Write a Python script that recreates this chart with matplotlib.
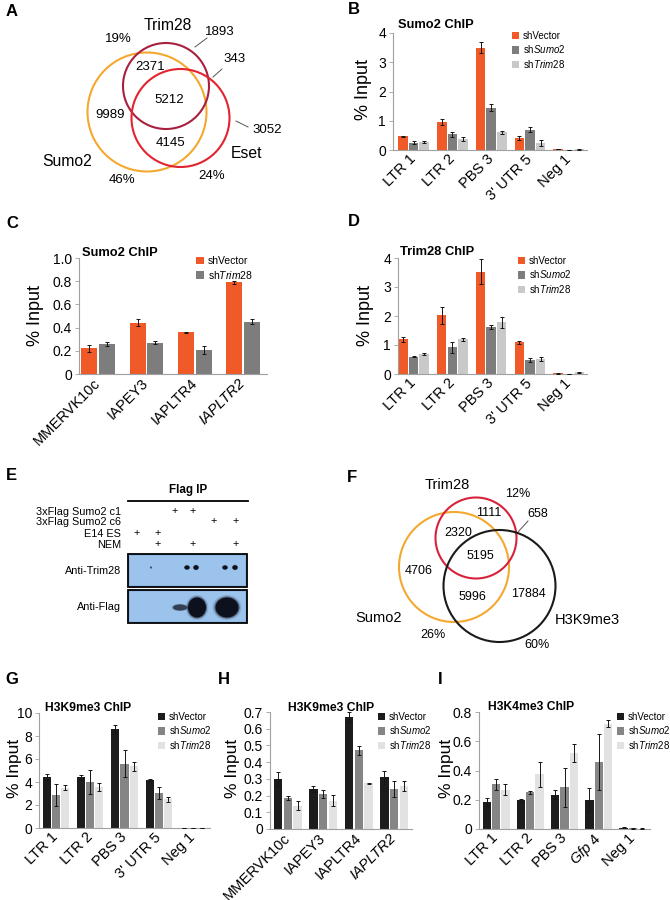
"""
Sumo2 / Trim28 ChIP figure (panels A-I)
"""

import matplotlib
matplotlib.use("Agg")
import matplotlib.pyplot as plt
from matplotlib.patches import Circle, Ellipse, Rectangle
import numpy as np

plt.rcParams["font.family"] = ["Liberation Sans", "DejaVu Sans"]
plt.rcParams["mathtext.fontset"] = "custom"
plt.rcParams["mathtext.rm"] = "Liberation Sans"
plt.rcParams["mathtext.it"] = "Liberation Sans:italic"
plt.rcParams["mathtext.bf"] = "Liberation Sans:bold"

W, H = 670, 900

# ---- data ----
retro_sites = ["LTR 1", "LTR 2", "PBS 3", "3' UTR 5", "Neg 1"]
iap_sites = ["MMERVK10c", "IAPEY3", "IAPLTR4", "IAPLTR2"]
gfp_sites = ["LTR 1", "LTR 2", "PBS 3", "$\\mathit{Gfp}$ 4", "Neg 1"]
kd_labels = ["shVector", "sh$\\mathit{Sumo2}$", "sh$\\mathit{Trim28}$"]
kd_labels_c = ["shVector", "sh$\\mathit{Trim28}$"]

# B: Sumo2 ChIP
b_vector = [0.47, 0.95, 3.50, 0.40, 0.03]
b_sumo2 = [0.25, 0.53, 1.45, 0.70, 0.00]
b_trim28 = [0.27, 0.37, 0.60, 0.25, 0.02]
b_vector_err = [0.02, 0.10, 0.20, 0.07, 0.01]
b_sumo2_err = [0.06, 0.08, 0.13, 0.10, 0.00]
b_trim28_err = [0.03, 0.06, 0.05, 0.10, 0.01]

# C: Sumo2 ChIP at IAP elements
c_vector = [0.22, 0.44, 0.36, 0.79]
c_trim28 = [0.26, 0.27, 0.21, 0.45]
c_vector_err = [0.03, 0.03, 0.003, 0.015]
c_trim28_err = [0.015, 0.015, 0.035, 0.02]

# D: Trim28 ChIP
d_vector = [1.20, 2.02, 3.53, 1.10, 0.02]
d_sumo2 = [0.60, 0.92, 1.62, 0.48, 0.00]
d_trim28 = [0.68, 1.20, 1.78, 0.52, 0.06]
d_vector_err = [0.08, 0.28, 0.42, 0.05, 0.01]
d_sumo2_err = [0.02, 0.18, 0.06, 0.08, 0.00]
d_trim28_err = [0.03, 0.05, 0.20, 0.06, 0.01]

# G: H3K9me3 ChIP
g_vector = [4.45, 4.40, 8.65, 4.15, 0.02]
g_sumo2 = [2.90, 4.00, 5.60, 3.05, 0.01]
g_trim28 = [3.50, 3.55, 5.35, 2.50, 0.01]
g_vector_err = [0.25, 0.20, 0.35, 0.08, 0.00]
g_sumo2_err = [0.95, 1.05, 1.15, 0.55, 0.00]
g_trim28_err = [0.20, 0.35, 0.35, 0.20, 0.00]

# H: H3K9me3 ChIP at IAP elements
h_vector = [0.300, 0.240, 0.670, 0.310]
h_sumo2 = [0.185, 0.210, 0.470, 0.240]
h_trim28 = [0.140, 0.170, 0.275, 0.260]
h_vector_err = [0.040, 0.020, 0.030, 0.040]
h_sumo2_err = [0.010, 0.025, 0.025, 0.050]
h_trim28_err = [0.025, 0.035, 0.003, 0.030]

# I: H3K4me3 ChIP
i_vector = [0.185, 0.195, 0.235, 0.200, 0.010]
i_sumo2 = [0.305, 0.250, 0.285, 0.460, 0.005]
i_trim28 = [0.270, 0.375, 0.520, 0.720, 0.003]
i_vector_err = [0.025, 0.010, 0.030, 0.080, 0.002]
i_sumo2_err = [0.035, 0.010, 0.135, 0.190, 0.002]
i_trim28_err = [0.040, 0.085, 0.060, 0.025, 0.001]

# A: Venn of Sumo2 / Trim28 / Eset peaks
venn_a_sets = ["Sumo2", "Trim28", "Eset"]
venn_a_counts = [9989, 2371, 5212, 4145, 1893, 343, 3052]
venn_a_pcts = ["46%", "19%", "24%"]

# F: Venn of Sumo2 / Trim28 / H3K9me3 peaks
venn_f_sets = ["Sumo2", "Trim28", "H3K9me3"]
venn_f_counts = [4706, 2320, 5195, 5996, 1111, 658, 17884]
venn_f_pcts = ["26%", "12%", "60%"]

# E: Flag IP western blot
e_rows = ["3xFlag Sumo2 c1", "3xFlag Sumo2 c6", "E14 ES", "NEM"]
e_plus = [[0, 0, 1, 1, 0, 0],
          [0, 0, 0, 0, 1, 1],
          [1, 1, 0, 0, 0, 0],
          [0, 1, 0, 1, 0, 1]]
e_blots = ["Anti-Trim28", "Anti-Flag"]
# bands: (lane, offset in px, width, height, strength)
trim28_bands = [(2, -7, 2.0, 2.0, 0.5), (4, -6, 5, 4, 1.0), (4, 3, 5, 4.5, 1.0),
                (6, -11, 5, 4, 1.0), (6, -1, 5, 4.5, 1.0)]
flag_bands = [(4, -13, 14, 6, 0.6), (4, 4, 18, 20, 1.0), (5, 13, 23, 20, 1.0)]

# ---- colours ----
ORANGE = "#ef5a28"
DGRAY = "#7d7d7d"
LGRAY = "#c9c9c9"
BLACK = "#1c1c1c"
MGRAY = "#858585"
PALE = "#e2e2e2"


def fx(px):
    return px / W


def fy(py):
    return 1 - py / H


fig = plt.figure(figsize=(W / 100, H / 100), dpi=100)
canvas = fig.add_axes([0, 0, 1, 1])
canvas.set_xlim(0, W)
canvas.set_ylim(H, 0)
canvas.axis("off")


def bar_panel(box, xlim, ylim, yticks, yticklabels, cats, means, errs, colors,
              labels, width, step, title, title_at, legend_at, ylabel_at,
              title_size=9.3, legend_size=7, italic_ticks=(), ylabel_size=13):
    left, top, right, bottom = box
    ax = fig.add_axes([fx(left), fy(bottom), (right - left) / W, (bottom - top) / H])
    ax.set_facecolor("none")
    x = np.arange(len(cats))
    n = len(means)
    bars = []
    for i, (m, e, c) in enumerate(zip(means, errs, colors)):
        xs = x + (i - (n - 1) / 2) * step
        bars.append(ax.bar(xs, m, width, color=c, zorder=2))
        ax.errorbar(xs, m, yerr=e, fmt="none", ecolor="#151515", elinewidth=0.7,
                    capsize=1.5, capthick=0.7, zorder=3)
    ax.set_xlim(*xlim)
    ax.set_ylim(*ylim)
    ax.set_yticks(yticks)
    ax.set_yticklabels(yticklabels, fontsize=10)
    ax.set_xticks(x)
    ax.set_xticklabels(cats, rotation=45, ha="right", va="center",
                       rotation_mode="anchor", fontsize=10.5)
    for lab in ax.get_xticklabels():
        if lab.get_text() in italic_ticks:
            lab.set_fontstyle("italic")
    for s in ("top", "right"):
        ax.spines[s].set_visible(False)
    for s in ("left", "bottom"):
        ax.spines[s].set_color("#a0a0a0")
        ax.spines[s].set_linewidth(0.8)
    ax.tick_params(axis="x", length=0, pad=5)
    ax.tick_params(axis="y", length=3, width=0.6, color="#a0a0a0", pad=2)
    fig.text(fx(title_at[0]), fy(title_at[1]), title, fontsize=title_size,
             weight="bold", ha="left", va="center")
    fig.text(fx(ylabel_at[0]), fy(ylabel_at[1]), "% Input", fontsize=ylabel_size,
             rotation=90, ha="center", va="center")
    ax.legend(bars, labels, loc="upper left",
              bbox_to_anchor=(fx(legend_at[0]), fy(legend_at[1])),
              bbox_transform=fig.transFigure, frameon=False, fontsize=legend_size,
              handlelength=0.75, handleheight=0.75, handletextpad=0.4,
              labelspacing=0.25, borderpad=0, borderaxespad=0)
    return ax


# B
bar_panel((393, 33, 587, 150), (-0.53, 4.47), (0, 4), [0, 1, 2, 3, 4],
          ["0", "1", "2", "3", "4"], retro_sites,
          [b_vector, b_sumo2, b_trim28], [b_vector_err, b_sumo2_err, b_trim28_err],
          [ORANGE, DGRAY, LGRAY], kd_labels, 0.245, 0.273,
          "Sumo2 ChIP", (398, 25), (512, 31), (363, 90))

# C
bar_panel((79, 258, 267, 374), (-0.4, 3.5), (0, 1.0), [0, 0.2, 0.4, 0.6, 0.8, 1.0],
          ["0", "0.2", "0.4", "0.6", "0.8", "1.0"], iap_sites,
          [c_vector, c_trim28], [c_vector_err, c_trim28_err],
          [ORANGE, DGRAY], kd_labels_c, 0.33, 0.37,
          "Sumo2 ChIP", (82, 253), (196, 256), (36, 316),
          legend_size=7.5, italic_ticks=("IAPLTR2",))

# D
bar_panel((398, 258, 587, 374), (-0.4, 4.47), (0, 4), [0, 1, 2, 3, 4],
          ["0", "1", "2", "3", "4"], retro_sites,
          [d_vector, d_sumo2, d_trim28], [d_vector_err, d_sumo2_err, d_trim28_err],
          [ORANGE, DGRAY, LGRAY], kd_labels, 0.245, 0.273,
          "Trim28 ChIP", (400, 252), (518, 256), (365, 316))

# G
bar_panel((39, 713, 210, 828), (-0.5, 4.5), (0, 10), [0, 2, 4, 6, 8, 10],
          ["0", "2", "4", "6", "8", "10"], retro_sites,
          [g_vector, g_sumo2, g_trim28], [g_vector_err, g_sumo2_err, g_trim28_err],
          [BLACK, MGRAY, PALE], kd_labels, 0.235, 0.265,
          "H3K9me3 ChIP", (45, 708), (158, 712), (14, 768), title_size=8.7,
          ylabel_size=12.5)

# H
bar_panel((270, 712, 412, 829), (-0.5, 3.5), (0, 0.7),
          [0, 0.1, 0.2, 0.3, 0.4, 0.5, 0.6, 0.7],
          ["0", "0.1", "0.2", "0.3", "0.4", "0.5", "0.6", "0.7"], iap_sites,
          [h_vector, h_sumo2, h_trim28], [h_vector_err, h_sumo2_err, h_trim28_err],
          [BLACK, MGRAY, PALE], kd_labels, 0.235, 0.277,
          "H3K9me3 ChIP", (288, 708), (378, 712), (233, 768), title_size=8.7,
          italic_ticks=("IAPLTR2",), ylabel_size=12.5)

# I
bar_panel((479, 712, 650, 829), (-0.5, 4.5), (0, 0.8), [0, 0.2, 0.4, 0.6, 0.8],
          ["0", "0.2", "0.4", "0.6", "0.8"], gfp_sites,
          [i_vector, i_sumo2, i_trim28], [i_vector_err, i_sumo2_err, i_trim28_err],
          [BLACK, MGRAY, PALE], kd_labels, 0.245, 0.27,
          "H3K4me3 ChIP", (488, 707), (617, 712), (447, 768), title_size=8.7,
          ylabel_size=12.5)


# ---- Venn panels ----
def venn(circles, colors, set_names, name_at, counts, count_at, pcts, pct_at, leaders,
         name_size, count_size):
    for (cx, cy, r), c in zip(circles, colors):
        canvas.add_patch(Circle((cx, cy), r, fill=False, ec=c, lw=1.5))
    for name, (tx, ty) in zip(set_names, name_at):
        canvas.text(tx, ty, name, fontsize=name_size, ha="center", va="center")
    for val, (tx, ty) in zip(counts, count_at):
        canvas.text(tx, ty, str(val), fontsize=count_size, ha="center", va="center")
    for p, (tx, ty) in zip(pcts, pct_at):
        canvas.text(tx, ty, p, fontsize=count_size, ha="center", va="center")
    for (x0, y0, x1, y1) in leaders:
        canvas.plot([x0, x1], [y0, y1], color="#555555", lw=0.7)


venn([(147, 112, 59.5), (166, 86, 43), (180.5, 118, 49)],
     ["#f5a830", "#a8203e", "#e3232f"], venn_a_sets,
     [(67, 161), (168, 25), (246, 154)],
     venn_a_counts,
     [(110, 115), (150, 67), (169, 100), (170, 143), (220, 32), (235, 59), (267, 130)],
     venn_a_pcts, [(122, 180), (118, 39), (212, 176)],
     [(207, 38, 195, 47), (222, 69, 213, 77), (236, 121, 248, 127)],
     11.3, 9.5)

venn([(454, 567, 55), (476, 538, 40.5), (499.5, 586, 56)],
     ["#f5a830", "#d8213a", "#1a1a1a"], venn_f_sets,
     [(379, 618), (447, 485), (587, 620)],
     venn_f_counts,
     [(419, 571), (458, 533), (480, 556), (472, 597), (489, 513), (538, 514), (528, 594)],
     venn_f_pcts, [(433, 635), (518, 494), (537, 645)],
     [(528, 521, 518, 532)],
     10.5, 9)

# ---- E: blot ----
lane_px = [137, 158, 175, 193, 214, 236]
row_py = [512, 522, 534, 545]
canvas.text(188, 490, "Flag IP", fontsize=8.4, weight="bold", ha="center", va="center")
canvas.plot([128, 248], [501, 501], color="black", lw=1.3)
for name, flags, py in zip(e_rows, e_plus, row_py):
    canvas.text(121, py, name, fontsize=7.8, ha="right", va="center")
    for on, px in zip(flags, lane_px):
        if on:
            canvas.text(px, py - 1, "+", fontsize=7.8, ha="center", va="center")

blot_boxes = [(128, 554, 247, 587), (128, 590, 247, 623)]
for name, (x0, y0, x1, y1), bands in zip(e_blots, blot_boxes, [trim28_bands, flag_bands]):
    canvas.add_patch(Rectangle((x0, y0), x1 - x0, y1 - y0, fc="#8fb8e4", ec="none"))
    canvas.add_patch(Rectangle((x0 + 2, y0 + 2), x1 - x0 - 4, y1 - y0 - 4,
                               fc="#9cc3ec", ec="none"))
    canvas.add_patch(Rectangle((x0, y0), x1 - x0, y1 - y0, fill=False,
                               ec="black", lw=1.3))
    canvas.text(121, (y0 + y1) / 2, name, fontsize=7.8, ha="right", va="center")
    yc = (y0 + y1) / 2 - (3 if bands is trim28_bands else -1)
    for lane, dx, bw, bh, k in bands:
        cx = lane_px[lane - 1] + dx
        for grow, alpha in ((1.25, 0.15 * k), (1.1, 0.45 * k), (1.0, 0.95 * k)):
            canvas.add_patch(Ellipse((cx, yc), bw * grow, bh * grow,
                                     fc="#0a0d18", ec="none", alpha=alpha))

# ---- panel letters ----
letters = ["A", "B", "C", "D", "E", "F", "G", "H", "I"]
letter_at = [(12, 12), (354, 10), (12, 223), (354, 222), (11, 476), (352, 477),
             (12, 680), (224, 680), (440, 680)]
for letter, (tx, ty) in zip(letters, letter_at):
    canvas.text(tx, ty, letter, fontsize=12, weight="bold", ha="center", va="center")

fig.savefig("out.png", dpi=100)
